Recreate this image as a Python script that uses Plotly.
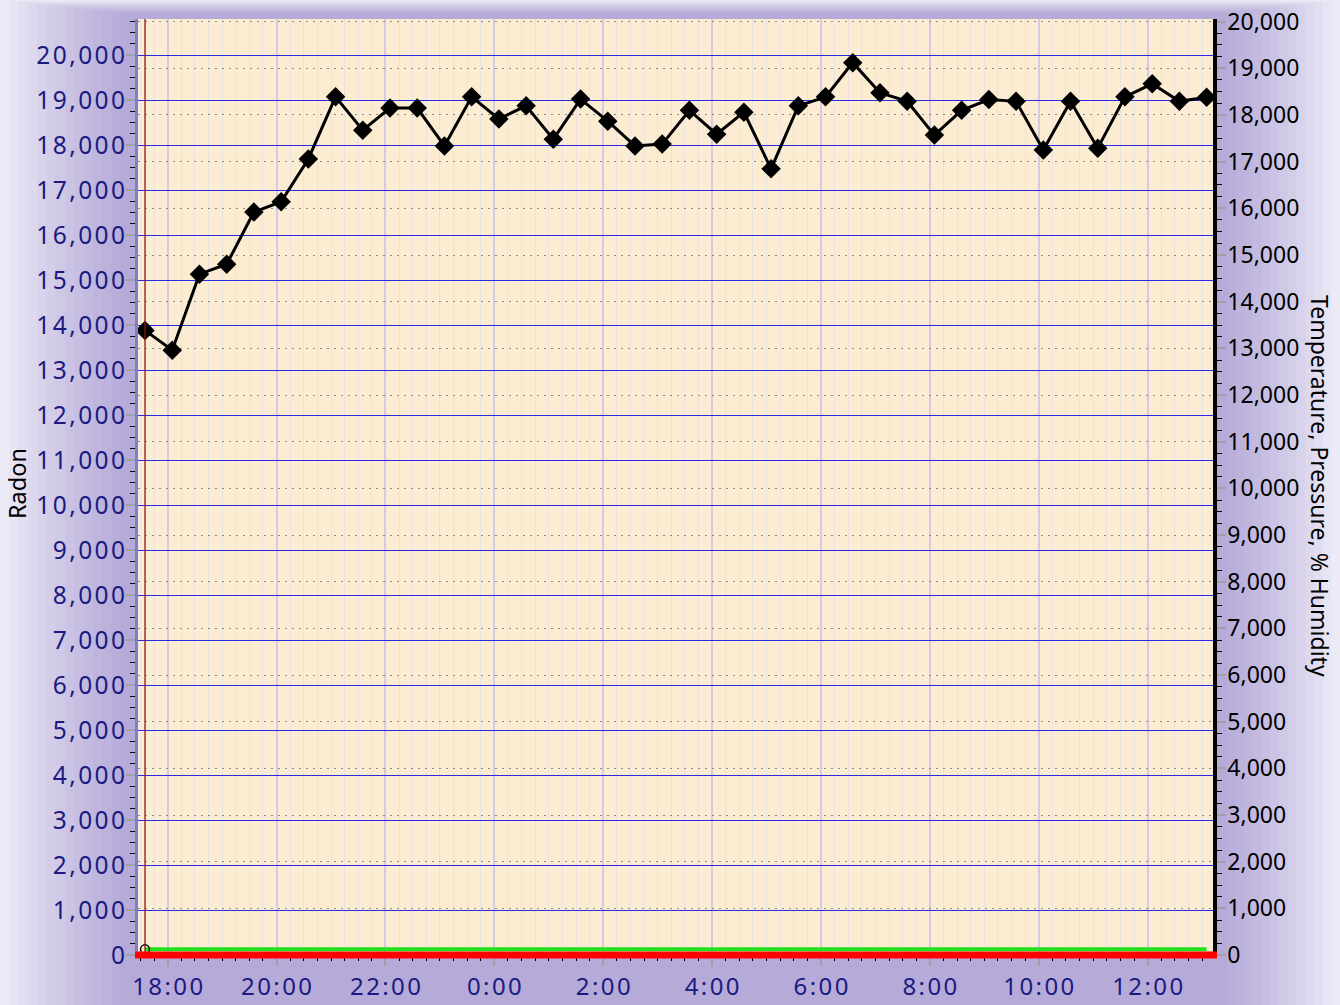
import plotly.graph_objects as go
import pandas as pd

# ---------------- data ----------------
start_time = "2024-03-01 17:35"
radon = [13880, 13440, 15130, 15350, 16510, 16740, 17690, 19070, 18330, 18820,
         18820, 17980, 19070, 18580, 18870, 18130, 19020, 18530, 17980, 18020,
         18770, 18240, 18730, 17470, 18870, 19070, 19830, 19160, 18970, 18220,
         18770, 19010, 18970, 17890, 18970, 17930, 19070, 19360, 18970, 19060]
pressure = [121, 121, 122, 122, 121, 121, 122, 122, 121, 121,
            121, 122, 122, 121, 121, 121, 122, 122, 121, 121,
            121, 122, 122, 121, 121, 121, 122, 122, 121, 121,
            121, 122, 122, 121, 121, 121, 122, 122, 121, 121]
times = pd.date_range(start_time, periods=len(radon), freq="30min")

x_tick_vals = ["2024-03-01 18:00", "2024-03-01 20:00", "2024-03-01 22:00",
               "2024-03-02 00:00", "2024-03-02 02:00", "2024-03-02 04:00",
               "2024-03-02 06:00", "2024-03-02 08:00", "2024-03-02 10:00",
               "2024-03-02 12:00"]
x_tick_text = ["18:00", "20:00", "22:00", "0:00", "2:00", "4:00",
               "6:00", "8:00", "10:00", "12:00"]
left_tick_vals = list(range(0, 20001, 1000))
left_tick_text = ["0", "1,000", "2,000", "3,000", "4,000", "5,000", "6,000", "7,000",
                  "8,000", "9,000", "10,000", "11,000", "12,000", "13,000", "14,000",
                  "15,000", "16,000", "17,000", "18,000", "19,000", "20,000"]
right_tick_vals = list(range(0, 20001, 1000))
right_tick_text = left_tick_text

HS = "\u200a"
def spaced(s):
    return HS.join(list(s))

# ---------------- layout geometry ----------------
W, H = 1340, 1005
L, R, T, B = 138, 1213, 19, 955
def px(xp):
    return (xp - L) / (R - L)
def py(yp):
    return (B - yp) / (B - T)

FONT = "Noto Sans"
NAVY = "#1a1a80"
CREAM = "#fbecd2"

fig = go.Figure()
fig.add_trace(go.Scatter(x=times, y=pressure, yaxis="y2", mode="lines",
                         line=dict(color="#22e01e", width=4), hoverinfo="skip"))
fig.add_trace(go.Scatter(x=[times[0]], y=[pressure[0]], yaxis="y2", mode="markers",
                         marker=dict(symbol="circle-open", size=9, color="black",
                                     line=dict(width=1.5, color="black")), hoverinfo="skip"))
fig.add_trace(go.Scatter(x=times, y=radon, mode="lines+markers",
                         line=dict(color="black", width=3),
                         marker=dict(symbol="diamond", size=15, color="black"),
                         hoverinfo="skip"))

shapes = []
# background gradient rings (paper, below everything)
N = 14
for k in range(N):
    x0p = k / N * 130
    x1p = W - k / N * 122
    y0p = k / N * 15
    shapes.append(dict(type="rect", xref="paper", yref="paper", layer="below",
                       x0=px(x0p), x1=px(x1p), y0=py(H), y1=py(y0p),
                       line=dict(width=0), fillcolor="rgba(120,105,200,0.046)"))
# cream plot area on top of the rings
shapes.append(dict(type="rect", xref="paper", yref="paper", layer="below",
                   x0=0, x1=1, y0=0, y1=1, line=dict(width=0), fillcolor=CREAM))
# bluish major lines
for t in ["2024-03-02 00:00", "2024-03-02 08:00"]:
    shapes.append(dict(type="line", xref="x", yref="paper", layer="below",
                       x0=t, x1=t, y0=0, y1=1, line=dict(color="#b4b4f8", width=1.3)))
# dark red marker line at first sample
shapes.append(dict(type="line", xref="x", yref="paper", layer="above",
                   x0=times[0], x1=times[0], y0=0, y1=1,
                   line=dict(color="#8e1414", width=1.3)))
# red baseline
shapes.append(dict(type="line", xref="paper", yref="paper", layer="above",
                   x0=px(135), x1=px(1217), y0=0, y1=0,
                   line=dict(color="#ff0000", width=7)))

fig.update_layout(
    width=W, height=H,
    margin=dict(l=L, r=W - R, t=T, b=H - B, autoexpand=False),
    paper_bgcolor="#f3f1fa",
    plot_bgcolor=CREAM,
    showlegend=False,
    hovermode=False,
    font=dict(family=FONT, size=22, color="black"),
    shapes=shapes,
    xaxis=dict(type="date", range=["2024-03-01 17:27:16", "2024-03-02 13:12:02"],
               automargin=False,
               tickmode="array", tickvals=x_tick_vals,
               ticktext=[spaced(s) for s in x_tick_text],
               ticks="outside", ticklen=10, tickwidth=1.5, tickcolor="#a0a0a8",
               tickfont=dict(family=FONT, size=24, color=NAVY),
               showgrid=True, gridcolor="#d3cbe3", gridwidth=2,
               minor=dict(tickmode="linear", tick0="2024-03-01 00:00", dtick=15 * 60 * 1000,
                          ticks="outside", ticklen=5, tickwidth=1, tickcolor="black",
                          showgrid=True, gridcolor="#ebe2e2", gridwidth=1),
               showline=False, zeroline=False, fixedrange=True),
    yaxis=dict(range=[0, 20800], automargin=False, tickmode="array", tickvals=left_tick_vals,
               ticktext=[spaced(s) for s in left_tick_text],
               ticks="outside", ticklen=9, tickwidth=1.5, tickcolor="#a0a0a8",
               tickfont=dict(family=FONT, size=24.5, color=NAVY),
               ticklabelstandoff=-4,
               showgrid=True, gridcolor="#2a2ae4", gridwidth=1.2,
               minor=dict(tickmode="linear", tick0=0, dtick=250, ticks="outside",
                          ticklen=5, tickwidth=1, tickcolor="black", showgrid=False),
               showline=True, linecolor="#7f7fc6", linewidth=3, zeroline=False),
    yaxis2=dict(range=[0, 20057], automargin=False, overlaying="y", side="right",
                tickmode="array", tickvals=right_tick_vals, ticktext=right_tick_text,
                ticks="outside", ticklen=9, tickwidth=1.5, tickcolor="#a0a0a8",
                tickfont=dict(family=FONT, size=23, color="black"),
                ticklabelstandoff=-3,
                showgrid=True, gridcolor="#8a8a8a", gridwidth=1.3, griddash="2px,5px",
                minor=dict(tickmode="linear", tick0=0, dtick=250, ticks="outside",
                           ticklen=5, tickwidth=1, tickcolor="black", showgrid=False),
                showline=True, linecolor="black", linewidth=3.5, zeroline=False),
    annotations=[
        dict(text="Radon", xref="paper", yref="paper", x=px(17), y=py(484),
             showarrow=False, textangle=-90, font=dict(family=FONT, size=23.5, color="black"),
             xanchor="center", yanchor="middle"),
        dict(text="Temperature, Pressure, % Humidity", xref="paper", yref="paper",
             x=px(1320), y=py(486), showarrow=False, textangle=90,
             font=dict(family=FONT, size=23, color="black"),
             xanchor="center", yanchor="middle"),
    ],
)

fig.write_html("out.html", config={"displayModeBar": False},
               post_script="document.body.style.margin='0';document.body.style.overflow='hidden';")
